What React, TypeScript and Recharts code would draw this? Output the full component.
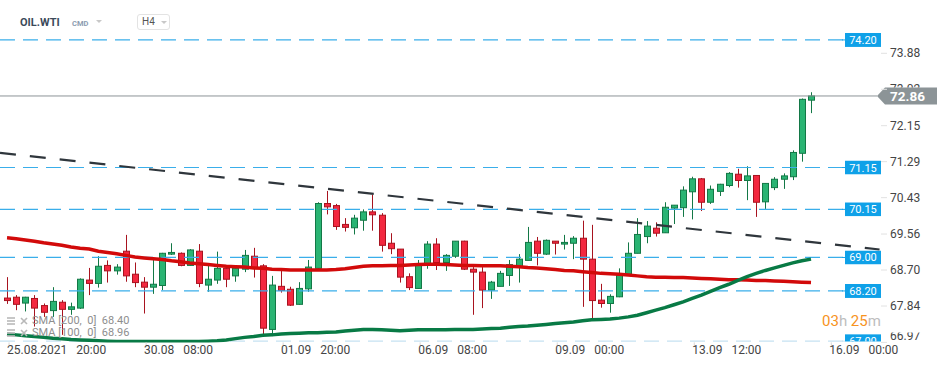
import React from "react";
import { ComposedChart, Bar, Line, XAxis, YAxis, ReferenceLine } from "recharts";

// OIL.WTI H4 candles, 25.08.2021 20:00 onwards
const opens = [
  68.03, 68.05, 67.91, 68.02, 67.85, 67.73, 67.93, 67.76, 67.79, 68.46,
  68.38, 68.81, 68.68, 69.15, 68.6, 68.41, 68.29, 68.33, 69.08, 69.1,
  68.81, 69.15, 68.34, 68.46, 68.74, 68.56, 68.72, 69.03, 68.8, 67.28,
  68.31, 68.24, 67.88, 68.25, 68.74, 70.29, 70.24, 69.79, 69.71, 69.89,
  70.09, 70.01, 69.34, 69.2, 68.54, 68.26, 68.84, 69.32, 68.88, 69.03,
  69.39, 68.72, 68.65, 68.22, 68.31, 68.57, 68.77, 68.93, 69.39, 69.08,
  69.39, 69.32, 69.34, 69.46, 68.96, 67.98, 67.9, 68.06, 68.6, 69.1,
  69.5, 69.7, 69.59, 70.18, 70.19, 70.57, 70.88, 70.32, 70.58, 70.72,
  70.99, 70.84, 70.96, 70.33, 70.67, 70.87, 70.93, 71.49, 72.76,
];
const highs = [
  68.53, 68.1, 68.06, 68.1, 67.9, 68.29, 67.98, 67.92, 68.5, 68.75,
  69.03, 68.93, 68.84, 69.54, 68.88, 68.53, 68.98, 69.11, 69.34, 69.12,
  69.2, 69.32, 68.8, 69.14, 68.79, 68.77, 69.18, 69.23, 68.84, 68.56,
  68.68, 68.3, 68.41, 68.94, 70.32, 70.59, 70.28, 69.94, 70.02, 70.15,
  70.5, 70.06, 69.58, 69.2, 68.62, 68.94, 69.39, 69.46, 69.08, 69.39,
  69.4, 68.77, 68.77, 68.44, 68.68, 68.94, 69.08, 69.73, 69.49, 69.43,
  69.39, 69.54, 69.51, 69.88, 69.78, 68.37, 68.12, 68.74, 69.36, 69.94,
  69.87, 69.84, 70.32, 70.25, 70.7, 70.93, 70.9, 70.72, 70.76, 71.04,
  71.12, 71.18, 70.97, 70.77, 70.92, 71.01, 71.56, 72.8, 72.95,
];
const lows = [
  67.89, 67.74, 67.71, 67.35, 67.58, 67.58, 67.15, 67.63, 67.77, 68.1,
  68.28, 68.4, 68.59, 68.42, 68.29, 67.66, 68.13, 68.22, 69.06, 68.79,
  68.8, 68.29, 68.18, 68.37, 68.29, 68.42, 68.65, 68.52, 67.17, 67.12,
  68.16, 67.84, 67.87, 68.18, 68.72, 70.03, 69.66, 69.62, 69.55, 69.64,
  69.64, 69.14, 69.08, 68.4, 68.22, 68.25, 68.73, 68.7, 68.68, 68.99,
  68.7, 67.63, 67.79, 68.01, 68.31, 68.32, 68.4, 68.93, 68.81, 69.06,
  69.07, 69.19, 68.96, 67.82, 67.55, 67.8, 67.68, 68.05, 68.58, 69.1,
  69.34, 69.5, 69.59, 69.8, 69.97, 69.91, 70.11, 70.28, 70.47, 70.68,
  70.67, 70.37, 69.97, 70.16, 70.61, 70.64, 70.85, 71.29, 72.45,
];
const closes = [
  67.97, 67.88, 68.05, 67.79, 67.69, 67.95, 67.76, 67.82, 68.48, 68.38,
  68.79, 68.68, 68.77, 68.56, 68.4, 68.29, 68.36, 69.1, 69.12, 68.81,
  69.18, 68.38, 68.48, 68.74, 68.48, 68.74, 69.05, 68.74, 67.31, 68.34,
  68.21, 67.86, 68.26, 68.77, 70.29, 70.21, 69.74, 69.72, 69.94, 70.09,
  70.02, 69.29, 69.21, 68.53, 68.28, 68.83, 69.32, 68.88, 69.05, 69.39,
  68.72, 68.65, 68.22, 68.41, 68.62, 68.83, 68.96, 69.36, 69.1, 69.41,
  69.34, 69.36, 69.46, 68.96, 67.97, 67.9, 68.07, 68.58, 69.1, 69.55,
  69.75, 69.58, 70.2, 70.25, 70.61, 70.88, 70.32, 70.63, 70.75, 71.01,
  70.84, 70.95, 70.32, 70.77, 70.87, 70.95, 71.51, 72.78, 72.86,
];
const sma100 = [
  67.17, 67.15, 67.13, 67.11, 67.09, 67.07, 67.06, 67.04, 67.03, 67.02,
  67.01, 67.0, 66.99, 66.99, 66.99, 66.99, 66.99, 66.99, 66.99, 66.99,
  66.99, 66.99, 67.0, 67.01, 67.03, 67.06, 67.09, 67.11, 67.14, 67.15,
  67.17, 67.18, 67.19, 67.2, 67.2, 67.21, 67.22, 67.24, 67.26, 67.28,
  67.28, 67.27, 67.26, 67.25, 67.26, 67.27, 67.27, 67.27, 67.27, 67.28,
  67.28, 67.28, 67.29, 67.3, 67.31, 67.33, 67.35, 67.36, 67.38, 67.4,
  67.42, 67.44, 67.46, 67.49, 67.51, 67.52, 67.53, 67.55, 67.58, 67.62,
  67.68, 67.74, 67.8, 67.87, 67.94, 68.02, 68.1, 68.19, 68.28, 68.36,
  68.45, 68.54, 68.62, 68.69, 68.75, 68.81, 68.87, 68.92, 68.96,
];
const sma200 = [
  69.47, 69.45, 69.42, 69.39, 69.35, 69.32, 69.29, 69.25, 69.22, 69.2,
  69.15, 69.12, 69.09, 69.05, 69.01, 68.99, 68.97, 68.95, 68.92, 68.9,
  68.87, 68.85, 68.83, 68.81, 68.79, 68.78, 68.77, 68.75, 68.74, 68.72,
  68.71, 68.7, 68.7, 68.7, 68.7, 68.7, 68.71, 68.73, 68.76, 68.79,
  68.8, 68.8, 68.81, 68.81, 68.82, 68.83, 68.84, 68.84, 68.83, 68.82,
  68.81, 68.81, 68.8, 68.8, 68.8, 68.79, 68.78, 68.76, 68.75, 68.73,
  68.71, 68.69, 68.68, 68.66, 68.64, 68.62, 68.61, 68.6, 68.58, 68.56,
  68.54, 68.53, 68.53, 68.52, 68.52, 68.51, 68.5, 68.49, 68.48, 68.47,
  68.47, 68.46, 68.45, 68.45, 68.44, 68.43, 68.42, 68.41, 68.4,
];

const timeTicks = [0, 15, 30, 45, 60, 75, 90];
const timeLabels = [
  ["25.08.2021", "20:00"],
  ["30.08", "08:00"],
  ["01.09", "20:00"],
  ["06.09", "08:00"],
  ["09.09", "00:00"],
  ["13.09", "12:00"],
  ["16.09", "00:00"],
];
const priceTicks = [66.97, 67.84, 68.7, 69.56, 70.43, 71.29, 72.15, 73.02, 73.88];
const levels = [74.2, 71.15, 70.15, 69.0, 68.2];
const lowLevel = 67.0;
const trend = [
  { x: -0.77, y: 71.5 },
  { x: 95.5, y: 69.19 },
];

const data = opens.map((o, i) => ({
  i,
  o,
  h: highs[i],
  l: lows[i],
  c: closes[i],
  range: [lows[i], highs[i]],
  sma100: sma100[i],
  sma200: sma200[i],
}));

const lastPrice = closes[closes.length - 1];
const font = "Roboto, 'Noto Sans', sans-serif";

// layout
const plotTop = 28;
const xAxisH = 24.6;
const yDomain = [66.97, 74.485];
const pxPerUnit = (367 - plotTop - xAxisH) / (yDomain[1] - yDomain[0]);
const tagHalf = 8.5;

function Candle(props: any) {
  const { x, y, width, height, payload } = props;
  const { o, h, l, c } = payload;
  const top = Math.min(y, y + height);
  const span = Math.abs(height);
  const k = h === l ? 0 : span / (h - l);
  const py = (v: number) => top + (h - v) * k;
  const cx = Math.round(x + width / 2) + 0.5;
  const up = c >= o;
  const fill = up ? "#2ab473" : "#f3283f";
  const stroke = up ? "#137846" : "#a8131f";
  const bTop = py(Math.max(o, c));
  const bBot = py(Math.min(o, c));
  return (
    <g>
      <line x1={cx} x2={cx} y1={top} y2={top + span} stroke={stroke} strokeWidth={1} />
      <rect
        x={cx - 3}
        y={bTop}
        width={6}
        height={Math.max(bBot - bTop, 1.5)}
        fill={fill}
        stroke={stroke}
        strokeWidth={1}
      />
    </g>
  );
}

function PriceTick(props: any) {
  const { x, y, payload } = props;
  const v = payload.value;
  const shift = v === priceTicks[0] ? -6 : 0;
  // hide the part of the label that sits under the last-price tag
  const tagTop = y + (v - lastPrice) * pxPerUnit - tagHalf;
  const tagBot = tagTop + 2 * tagHalf;
  const covered = tagTop < y + 6 && tagBot > y - 6;
  const visH = covered ? Math.max(tagTop - (y - 10), 0) : 20;
  return (
    <g>
      <line x1={x + 38} x2={x + 44} y1={y} y2={y} stroke="#e2e2e2" />
      <svg x={x + 44} y={y - 10} width={50} height={visH} overflow="hidden">
        <text x={3} y={14 + shift} fill="#454545" fontSize={12} fontFamily={font}>
          {v.toFixed(2)}
        </text>
      </svg>
    </g>
  );
}

function TimeTick(props: any) {
  const { x, y, payload } = props;
  const idx = timeTicks.indexOf(payload.value);
  const [d, t] = timeLabels[idx];
  return (
    <g>
      <line x1={x + 2} x2={x + 2} y1={y} y2={y + 3} stroke="#d8d8d8" />
      <text x={x} y={y + 12} fill="#454545" fontSize={12} fontFamily={font}>
        {d}
        <tspan dx={9}>{t}</tspan>
      </text>
    </g>
  );
}

function LevelTag(props: any) {
  const { viewBox, text, clipH, light } = props;
  const right = viewBox.x + viewBox.width;
  const y = viewBox.y;
  return (
    <g>
      <line x1={right - 1} x2={right + 2} y1={y} y2={y} stroke={light ? "#c6e2f2" : "#1aa3e8"} />
      <svg x={right + 2} y={y - 7} width={36} height={clipH ?? 14} overflow="hidden">
        <rect width={36} height={14} fill="#0fa1e8" />
        <text x={18} y={11} textAnchor="middle" fill="#fff" fontSize={11} fontFamily={font}>
          {text}
        </text>
      </svg>
    </g>
  );
}

function PriceTag(props: any) {
  const { viewBox } = props;
  const right = viewBox.x + viewBox.width;
  const y = viewBox.y;
  const tip = right + 34;
  return (
    <g>
      <line x1={right} x2={tip} y1={y} y2={y} stroke="#8c9497" />
      <polygon
        points={`${tip},${y} ${tip + 8},${y - tagHalf} ${tip + 60},${y - tagHalf} ${tip + 60},${y + tagHalf} ${tip + 8},${y + tagHalf}`}
        fill="#8c9497"
      />
      <text x={tip + 13} y={y + 5} fill="#fff" fontSize={13.5} fontWeight="bold" fontFamily={font}>
        {lastPrice.toFixed(2)}
      </text>
    </g>
  );
}

function Icons() {
  return (
    <svg width={24} height={10} style={{ verticalAlign: "middle", marginRight: 2 }}>
      <g stroke="#b9b9b9" strokeWidth={1.6}>
        <line x1={1} x2={9} y1={2} y2={2} />
        <line x1={1} x2={9} y1={5} y2={5} />
        <line x1={1} x2={9} y1={8} y2={8} />
        <line x1={15} x2={21} y1={2} y2={8} />
        <line x1={21} x2={15} y1={2} y2={8} />
      </g>
    </svg>
  );
}

export default function App() {
  return (
    <div style={{ position: "relative", width: 950, height: 367, fontFamily: font, background: "#fff" }}>
      <style>{`body{margin:0}`}</style>
      <ComposedChart width={950} height={367} data={data} margin={{ top: plotTop, right: 0, left: 0, bottom: 0 }}>
        <XAxis
          dataKey="i"
          type="number"
          domain={[-0.77, 91.5]}
          ticks={timeTicks}
          allowDataOverflow
          height={xAxisH}
          axisLine={false}
          tickLine={false}
          tickSize={0}
          tickMargin={0}
          tick={<TimeTick />}
          interval={0}
        />
        <YAxis
          orientation="right"
          width={107}
          domain={yDomain}
          ticks={priceTicks}
          allowDataOverflow
          axisLine={false}
          tickLine={false}
          tickSize={0}
          tickMargin={0}
          tick={<PriceTick />}
          interval={0}
        />
        {levels.map((v) => (
          <ReferenceLine
            key={v}
            y={v}
            stroke="#3aaeea"
            strokeWidth={1.2}
            strokeDasharray="15 8"
            label={<LevelTag text={v.toFixed(2)} />}
          />
        ))}
        <ReferenceLine
          y={lowLevel}
          stroke="#c6e2f2"
          strokeWidth={1.2}
          strokeDasharray="15 8"
          label={<LevelTag text={lowLevel.toFixed(2)} clipH={7.4} light />}
        />
        <ReferenceLine y={lastPrice} stroke="#8c9497" strokeWidth={1} label={<PriceTag />} />
        <Bar dataKey="range" barSize={7} shape={<Candle />} isAnimationActive={false} />
        <Line
          dataKey="sma200"
          stroke="#d20a0a"
          strokeWidth={3.5}
          dot={false}
          activeDot={false}
          isAnimationActive={false}
        />
        <Line
          dataKey="sma100"
          stroke="#087a45"
          strokeWidth={3.5}
          dot={false}
          activeDot={false}
          isAnimationActive={false}
        />
        <ReferenceLine
          segment={trend}
          stroke="#2f363c"
          strokeWidth={2.2}
          strokeDasharray="16 14"
          ifOverflow="visible"
        />
      </ComposedChart>

      <div style={{ position: "absolute", left: 20, top: 16, fontSize: 11, fontWeight: "bold", color: "#3b4a5a" }}>
        OIL.WTI
      </div>
      <div style={{ position: "absolute", left: 72, top: 19, fontSize: 7.5, fontWeight: "bold", color: "#8b9cb0" }}>
        CMD
      </div>
      <svg style={{ position: "absolute", left: 96, top: 20 }} width={7} height={4}>
        <polygon points="0,0 6,0 3,3" fill="#c8c8c8" />
      </svg>
      <div
        style={{
          position: "absolute",
          left: 137,
          top: 14,
          width: 33,
          height: 16,
          border: "1px solid #e3e3e3",
          borderRadius: 3,
          boxSizing: "border-box",
        }}
      >
        <span style={{ position: "absolute", left: 4, top: 1, fontSize: 10, color: "#555" }}>H4</span>
        <svg style={{ position: "absolute", left: 23, top: 6 }} width={7} height={4}>
          <polygon points="0,0 6,0 3,3" fill="#c8c8c8" />
        </svg>
      </div>

      <div style={{ position: "absolute", left: 6, top: 315, fontSize: 11, lineHeight: "12px", color: "#8e8e8e", whiteSpace: "pre" }}>
        <div>
          <Icons />
          {`SMA [200,  0]  ${sma200[sma200.length - 1].toFixed(2)}`}
        </div>
        <div>
          <Icons />
          {`SMA [100,  0]  ${sma100[sma100.length - 1].toFixed(2)}`}
        </div>
      </div>

      <div style={{ position: "absolute", left: 822, top: 312, fontSize: 15, whiteSpace: "pre" }}>
        <span style={{ color: "#f7931e" }}>03</span>
        <span style={{ color: "#bdbdbd" }}>h </span>
        <span style={{ color: "#f7931e" }}>25</span>
        <span style={{ color: "#bdbdbd" }}>m</span>
      </div>
    </div>
  );
}
